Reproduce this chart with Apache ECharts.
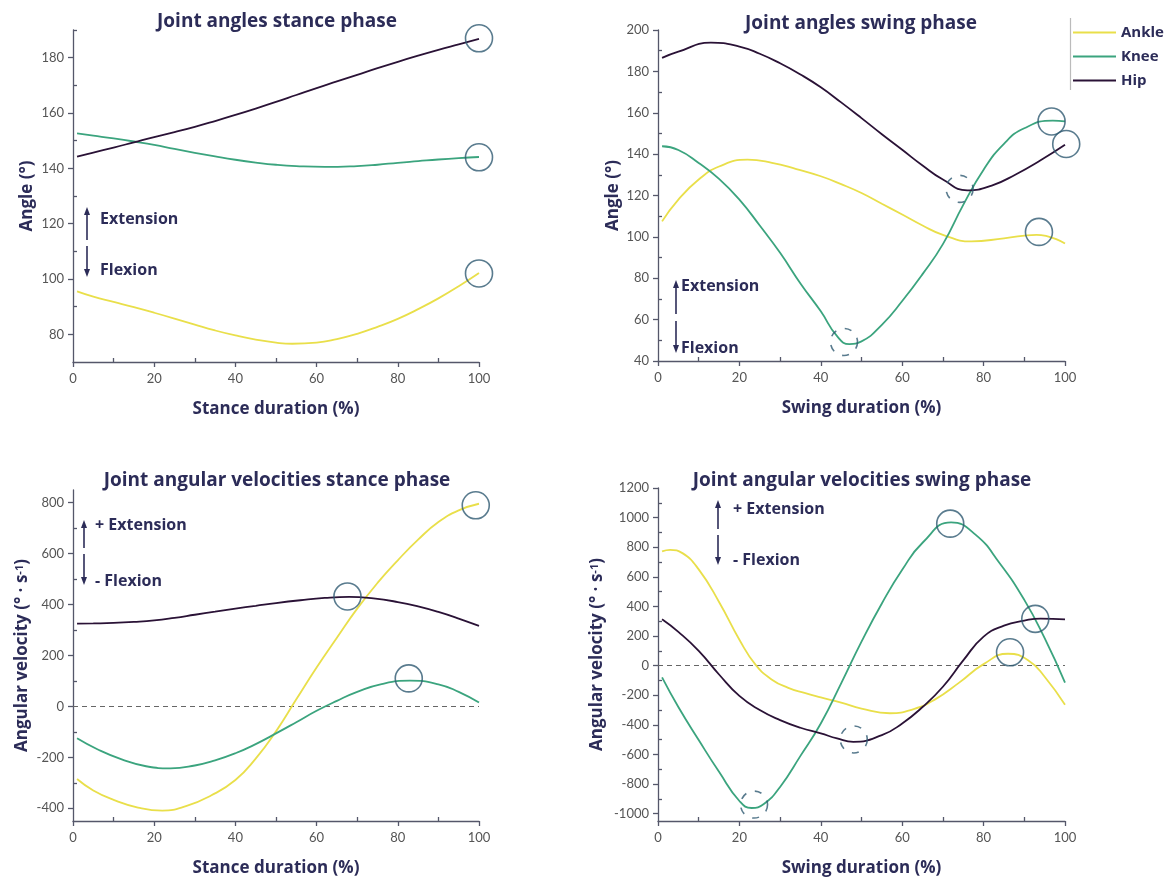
<!DOCTYPE html>
<html><head><meta charset="utf-8">
<script src="https://cdn.jsdelivr.net/npm/echarts@6/dist/echarts.min.js"></script>
<style>html,body{margin:0;padding:0;background:#fff}#c{width:1169px;height:879px}</style>
</head><body><div id="c"></div>
<script>
// ---------------- DATA ----------------
const joints = ['Ankle', 'Knee', 'Hip'];

// Joint angles, stance phase  [x (% stance), angle (deg)]
const stanceAngleAnkle = [[1,95.5],[5,93.6],[10,91.7],[15,89.8],[20,87.8],[25,85.7],[30,83.5],[35,81.4],[40,79.6],[45,78.1],[50,77],[54,76.6],[60,77],[65,78.3],[70,80.2],[75,82.7],[80,85.6],[85,89.1],[90,93],[95,97.4],[100,102.2]];
const stanceAngleKnee  = [[1,152.6],[5,151.8],[10,150.8],[15,149.7],[20,148.5],[25,147],[30,145.6],[35,144.3],[40,143.1],[45,142.1],[50,141.3],[55,140.8],[62,140.5],[70,140.8],[75,141.3],[80,142],[85,142.6],[90,143.2],[95,143.7],[100,144.1]];
const stanceAngleHip   = [[1,144.2],[5,145.7],[10,147.5],[15,149.4],[20,151.3],[25,153.1],[30,155],[35,157.1],[40,159.3],[45,161.6],[50,164],[55,166.5],[60,169],[65,171.4],[70,173.8],[75,176.2],[80,178.5],[85,180.7],[90,182.8],[95,184.8],[100,186.8]];
const stanceAngleCircles = [[100,187],[100,144],[100,102]];
const stanceAngleDashed  = [];

// Joint angles, swing phase
const swingAngleAnkle = [[1,107.5],[5,118],[10,127.7],[15,134],[22,137.3],[28,135.8],[34,132.8],[40,129.3],[45,125.5],[50,121.2],[55,116],[60,110.8],[65,105.5],[70,101],[77,97.8],[85,99.3],[93,101],[100,96.8]];
const swingAngleKnee  = [[1,143.8],[5,142],[10,135.7],[15,128],[20,118],[25,105.5],[30,92.3],[35,77.5],[40,64],[44,52],[47,48.2],[50,49.5],[55,57.5],[60,69],[65,82],[70,96.5],[75,115.5],[80,132.5],[85,145],[90,152.5],[97,156.2],[100,155.8]];
const swingAngleHip   = [[1,186.5],[5,189.5],[13,193.9],[20,192],[25,188.5],[30,183.9],[35,178.5],[40,172.3],[45,165],[50,157.4],[55,149.6],[60,142.1],[65,134.5],[70,127.7],[76,122.5],[82,124.8],[88,130.3],[94,137],[100,144.5]];
const swingAngleCircles = [[96.7,155.8],[100.3,144.9],[93.6,102.4]];
const swingAngleDashed  = [[74.1,123.2],[45.7,49.2]];

// Joint angular velocities, stance phase  [x, deg/s]
const stanceVelAnkle = [[1,-285],[5,-330],[10,-367],[16,-397],[22,-409],[28,-391],[34,-350],[40,-289],[45,-205],[50,-98],[55,28],[60,153],[65,270],[70,384],[75,485],[80,574],[85,655],[90,724],[95,770],[100,796]];
const stanceVelKnee  = [[1,-125],[6,-168],[12,-208],[18,-235],[24,-243],[30,-232],[35,-212],[40,-184],[45,-148],[50,-106],[55,-62],[60,-17],[65,22],[70,57],[76,88],[83,101],[90,87],[95,57],[100,15]];
const stanceVelHip   = [[1,325],[5,326],[10,328],[15,332],[20,338],[25,348],[30,360],[35,372],[40,384],[45,395],[50,406],[56,417],[62,426],[68,430],[74,424],[80,410],[85,393],[90,371],[95,345],[100,316]];
const stanceVelCircles = [[67.6,432],[82.7,110],[99.2,790]];
const stanceVelDashed  = [];

// Joint angular velocities, swing phase
const swingVelAnkle = [[1,772],[3,782],[6,760],[10,650],[15,430],[20,175],[24,5],[28,-95],[32,-150],[36,-185],[40,-215],[45,-250],[50,-290],[57,-322],[63,-292],[68,-230],[74,-115],[80,10],[86,80],[91,35],[95,-75],[100,-265]];
const swingVelKnee  = [[1,-80],[5,-280],[10,-503],[15,-718],[20,-915],[23,-962],[26,-935],[30,-820],[35,-610],[40,-391],[45,-120],[50,162],[55,420],[60,647],[65,830],[72,968],[78,885],[84,690],[90,444],[95,185],[100,-115]];
const swingVelHip   = [[1,313],[5,228],[10,100],[15,-60],[20,-205],[25,-300],[30,-368],[35,-420],[40,-458],[44,-492],[48,-515],[55,-470],[60,-391],[65,-280],[70,-143],[75,35],[80,196],[85,270],[90,304],[94,318],[100,313]];
const swingVelCircles = [[71.8,959],[92.7,316],[86.5,90]];
const swingVelDashed  = [[48.1,-499],[23.6,-939]];

// Tick values
const xTicks = [0,20,40,60,80,100];
const xMinorTicks = [10,30,50,70,90];
const stanceAngleTicks = [80,100,120,140,160,180];
const stanceAngleMinor = [90,110,130,150,170,190];
const swingAngleTicks = [40,60,80,100,120,140,160,180,200];
const swingAngleMinor = [50,70,90,110,130,150,170,190];
const stanceVelTicks = [-400,-200,0,200,400,600,800];
const stanceVelMinor = [-300,-100,100,300,500,700];
const swingVelTicks = [-1000,-800,-600,-400,-200,0,200,400,600,800,1000,1200];
const swingVelMinor = [-900,-700,-500,-300,-100,100,300,500,700,900,1100];

// ---------------- STYLE / LAYOUT ----------------
const COLORS = {Ankle:'#e9df4a', Knee:'#3ba47e', Hip:'#2a1236'};
const NAVY = '#2c2c58';
const AXIS = '#55576a';
const CIRCLE = '#2f5a72';
const FONT = 'Lato, "Open Sans", sans-serif';
const BFONT = '"Open Sans", Lato, sans-serif';

const panels = [
  {grid:{left:73, top:30, width:406, height:332}, yMin:70, yMax:190, yTicks:stanceAngleTicks, yMinor:stanceAngleMinor,
   title:'Joint angles stance phase', titleX:272, titleY:7, xName:'Stance duration (%)', yName:'Angle (°)', yNameGap:37,
   series:[stanceAngleAnkle, stanceAngleKnee, stanceAngleHip], circles:stanceAngleCircles, dashed:stanceAngleDashed, zero:false},
  {grid:{left:658, top:30, width:407, height:331}, yMin:40, yMax:200, yTicks:swingAngleTicks, yMinor:swingAngleMinor,
   title:'Joint angles swing phase', titleX:856, titleY:9, xName:'Swing duration (%)', yName:'Angle (°)', yNameGap:36,
   series:[swingAngleAnkle, swingAngleKnee, swingAngleHip], circles:swingAngleCircles, dashed:swingAngleDashed, zero:false},
  {grid:{left:73, top:490, width:406, height:331}, yMin:-450, yMax:850, yTicks:stanceVelTicks, yMinor:stanceVelMinor,
   title:'Joint angular velocities stance phase', titleX:272, titleY:466, xName:'Stance duration (%)', yName:'Angular velocity (° · s{sup|-1})', yNameGap:42,
   series:[stanceVelAnkle, stanceVelKnee, stanceVelHip], circles:stanceVelCircles, dashed:stanceVelDashed, zero:true},
  {grid:{left:658, top:488, width:407, height:333}, yMin:-1050, yMax:1200, yTicks:swingVelTicks, yMinor:swingVelMinor,
   title:'Joint angular velocities swing phase', titleX:857, titleY:466, xName:'Swing duration (%)', yName:'Angular velocity (° · s{sup|-1})', yNameGap:52,
   series:[swingVelAnkle, swingVelKnee, swingVelHip], circles:swingVelCircles, dashed:swingVelDashed, zero:true}
];

const nameStyle = {color:NAVY, fontWeight:'bold', fontFamily:BFONT, fontSize:17,
  rich:{sup:{fontSize:11, fontWeight:'bold', color:NAVY, fontFamily:BFONT, verticalAlign:'top', padding:[0,0,6,0]}}};
const labelStyle = {color:'#555', fontSize:13, fontFamily:FONT};

const grids=[], xAxes=[], yAxes=[], series=[], titles=[];
panels.forEach((p, i) => {
  grids.push(Object.assign({containLabel:false}, p.grid));
  titles.push({text:p.title, left:p.titleX, top:p.titleY, textAlign:'center',
    textStyle:{color:NAVY, fontWeight:'bold', fontSize:19, fontFamily:BFONT}});
  xAxes.push({gridIndex:i, type:'value', min:0, max:100, interval:20, position:'bottom',
    name:p.xName, nameLocation:'middle', nameGap:39, nameTextStyle:Object.assign({}, nameStyle, {fontSize:17}),
    axisLine:{show:true, onZero:false, lineStyle:{color:AXIS, width:1.3}},
    axisTick:{show:true, inside:false, length:5, customValues:xTicks, lineStyle:{color:AXIS, width:1.3}},
    axisLabel:{customValues:xTicks, margin:10, formatter:v => String(v), ...labelStyle},
    splitLine:{show:false}});
  xAxes.push({gridIndex:i, type:'value', min:0, max:100, position:'bottom',
    axisLine:{show:false, onZero:false}, axisLabel:{show:false}, splitLine:{show:false},
    axisTick:{show:true, inside:true, length:4, customValues:xMinorTicks, lineStyle:{color:AXIS, width:1.3}}});
  yAxes.push({gridIndex:i, type:'value', min:p.yMin, max:p.yMax, position:'left',
    name:p.yName, nameLocation:'middle', nameGap:p.yNameGap, nameRotate:90, nameTextStyle:Object.assign({}, nameStyle, {fontSize:17}),
    axisLine:{show:true, onZero:false, lineStyle:{color:AXIS, width:1.3}},
    axisTick:{show:true, inside:false, length:5, customValues:p.yTicks, lineStyle:{color:AXIS, width:1.3}},
    axisLabel:{customValues:p.yTicks, margin:9, formatter:v => String(v), ...labelStyle},
    splitLine:{show:false}});
  yAxes.push({gridIndex:i, type:'value', min:p.yMin, max:p.yMax, position:'left',
    axisLine:{show:false, onZero:false}, axisLabel:{show:false}, splitLine:{show:false},
    axisTick:{show:true, inside:true, length:4, customValues:p.yMinor, lineStyle:{color:AXIS, width:1.3}}});

  p.series.forEach((d, j) => {
    const s = {name:joints[j], type:'line', xAxisIndex:2*i, yAxisIndex:2*i, data:d, smooth:0.5,
      symbol:'none', lineStyle:{color:COLORS[joints[j]], width:1.8}, itemStyle:{color:COLORS[joints[j]]},
      silent:true, z:2};
    if (p.zero && j === 0) {
      s.markLine = {silent:true, symbol:['none','none'], label:{show:false},
        lineStyle:{color:'#666', type:[5,4], width:1.2}, data:[{yAxis:0}], z:1};
    }
    series.push(s);
  });
  series.push({name:'solid circles', type:'scatter', xAxisIndex:2*i, yAxisIndex:2*i, data:p.circles,
    symbol:'circle', symbolSize:27, clip:false, silent:true, z:5,
    itemStyle:{color:'rgba(0,0,0,0)', borderColor:CIRCLE, borderWidth:1.6}});
  if (p.dashed.length) {
    series.push({name:'dashed circles', type:'scatter', xAxisIndex:2*i, yAxisIndex:2*i, data:p.dashed,
      symbol:'circle', symbolSize:27, clip:false, silent:true, z:5,
      itemStyle:{color:'rgba(0,0,0,0)', borderColor:CIRCLE, borderWidth:1.6, borderType:[7,9]}});
  }
});

// annotation arrows & labels (Extension / Flexion)
const annots = [
  {x:87, top:207, gap1:240, gap2:246, bottom:277, t1:'Extension', y1:219, t2:'Flexion', y2:270, tx:100},
  {x:676, top:280, gap1:314, gap2:321, bottom:353, t1:'Extension', y1:286, t2:'Flexion', y2:348, tx:681},
  {x:84, top:520, gap1:548, gap2:554, bottom:585, t1:'+ Extension', y1:525, t2:'- Flexion', y2:581, tx:95},
  {x:718, top:500, gap1:529, gap2:535, bottom:565, t1:'+ Extension', y1:509, t2:'- Flexion', y2:560, tx:733}
];
const graphics = [];
annots.forEach(a => {
  graphics.push({type:'line', shape:{x1:a.x, y1:a.top+5, x2:a.x, y2:a.gap1}, style:{stroke:NAVY, lineWidth:1.6}});
  graphics.push({type:'line', shape:{x1:a.x, y1:a.gap2, x2:a.x, y2:a.bottom-5}, style:{stroke:NAVY, lineWidth:1.6}});
  graphics.push({type:'polygon', shape:{points:[[a.x-3,a.top+8],[a.x,a.top],[a.x+3,a.top+8]]}, style:{fill:NAVY}});
  graphics.push({type:'polygon', shape:{points:[[a.x-3,a.bottom-8],[a.x,a.bottom],[a.x+3,a.bottom-8]]}, style:{fill:NAVY}});
  graphics.push({type:'text', x:a.tx, y:a.y1, style:{text:a.t1, fill:NAVY, font:'bold 16px ' + BFONT, verticalAlign:'middle'}});
  graphics.push({type:'text', x:a.tx, y:a.y2, style:{text:a.t2, fill:NAVY, font:'bold 16px ' + BFONT, verticalAlign:'middle'}});
});
graphics.push({type:'line', shape:{x1:1070.5, y1:18, x2:1070.5, y2:90}, style:{stroke:'#bbb', lineWidth:1.2}});

const chart = echarts.init(document.getElementById('c'), null, {renderer:'canvas'});
chart.setOption({
  backgroundColor:'#fff',
  animation:false,
  title:titles,
  grid:grids,
  xAxis:xAxes,
  yAxis:yAxes,
  legend:{data:joints, orient:'vertical', left:1072, top:25, itemWidth:43, itemHeight:14, itemGap:9, padding:0,
    selectedMode:false, itemStyle:{opacity:0},
    textStyle:{color:NAVY, fontWeight:'bold', fontSize:15, fontFamily:BFONT}},
  graphic:graphics,
  series:series
});
</script></body></html>
